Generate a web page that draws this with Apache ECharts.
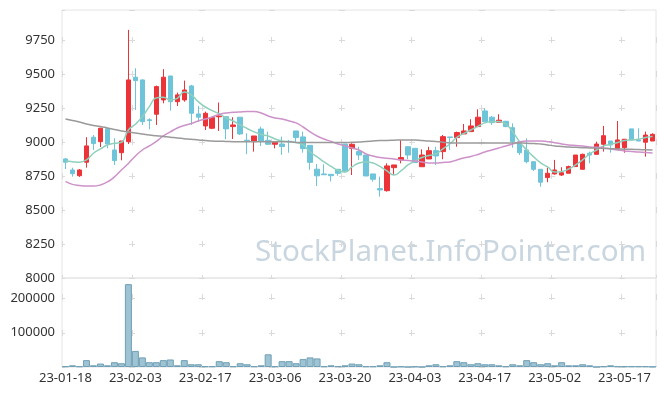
<!DOCTYPE html>
<html><head><meta charset="utf-8">
<script src="https://cdn.jsdelivr.net/npm/echarts@6/dist/echarts.min.js"></script>
<style>html,body{margin:0;padding:0;background:#fff}#c{width:665px;height:396px}</style>
</head><body><div id="c"></div>
<script>
const dates = ['23-01-18','23-01-19','23-01-20','23-01-25','23-01-26','23-01-27','23-01-30','23-01-31',
'23-02-01','23-02-02','23-02-03','23-02-06','23-02-07','23-02-08','23-02-09','23-02-10','23-02-13','23-02-14','23-02-15','23-02-16','23-02-17','23-02-20','23-02-21','23-02-22','23-02-23','23-02-24','23-02-27','23-02-28',
'23-03-02','23-03-03','23-03-06','23-03-07','23-03-08','23-03-09','23-03-10','23-03-13','23-03-14','23-03-15','23-03-16','23-03-17','23-03-20','23-03-21','23-03-22','23-03-23','23-03-24','23-03-27','23-03-28','23-03-29','23-03-30','23-03-31',
'23-04-03','23-04-04','23-04-05','23-04-06','23-04-07','23-04-10','23-04-11','23-04-12','23-04-13','23-04-14','23-04-17','23-04-18','23-04-19','23-04-20','23-04-21','23-04-24','23-04-25','23-04-26','23-04-27','23-04-28',
'23-05-02','23-05-03','23-05-04','23-05-08','23-05-09','23-05-10','23-05-11','23-05-12','23-05-15','23-05-16','23-05-17','23-05-18','23-05-19','23-05-22','23-05-23'];

// [open, close, low, high]
const ohlc = [
[8875,8851,8801,8882],[8794,8767,8745,8811],[8752,8794,8743,8801],[8851,8971,8811,9035],[9035,8988,8941,9051],
[9002,9101,8963,9105],[9098,8985,8953,9098],[8941,8863,8831,9027],[8921,9007,8865,9007],[9002,9456,8985,9824],
[9476,9451,9235,9542],[9456,9149,9125,9460],[9163,9157,9093,9174],[9204,9407,9125,9414],[9309,9476,9284,9535],
[9485,9296,9230,9485],[9296,9346,9265,9363],[9309,9382,9296,9451],[9412,9211,9125,9420],[9206,9182,9149,9265],
[9118,9211,9088,9223],[9101,9179,9095,9185],[9185,9191,9081,9290],[9186,9096,9020,9186],[9113,9125,9022,9182],
[9182,9059,9051,9182],[9013,9005,8910,9064],[9002,9044,8929,9044],[9095,9007,8970,9112],[9012,8983,8980,9076],
[8983,8998,8953,9000],[8985,8966,8905,9039],[9005,9002,8921,9015],[9081,9032,8998,9081],[9037,8951,8921,9076],
[8975,8850,8796,8975],[8800,8751,8676,8838],[8765,8759,8759,8836],[8762,8752,8710,8762],[8799,8770,8752,8799],
[8985,8789,8774,8985],[8953,8983,8757,8990],[8929,8904,8868,8965],[8904,8750,8750,8904],[8765,8726,8708,8765],
[8657,8647,8598,8745],[8642,8824,8635,8843],[8811,8831,8757,8831],[8868,8885,8843,9015],[8965,8904,8873,8965],
[8953,8848,8848,8953],[8818,8904,8818,8946],[8875,8936,8875,8965],[8936,8897,8831,8965],[8929,9039,8873,9051],
[9037,9032,8941,9037],[9032,9069,8965,9076],[9059,9081,9059,9132],[9076,9118,9076,9167],[9113,9182,9113,9240],
[9228,9149,9149,9248],[9182,9142,9125,9191],[9145,9160,9145,9204],[9152,9113,9108,9152],[9105,9002,8958,9137],
[9002,8921,8904,9002],[8941,8855,8843,9027],[8855,8799,8787,8855],[8799,8704,8671,8799],[8738,8770,8704,8811],
[8765,8794,8760,8868],[8757,8774,8750,8814],[8770,8819,8770,8826],[8819,8904,8819,8904],[8799,8909,8799,8914],
[8917,8904,8843,8929],[8909,8985,8909,9002],[8983,9046,8929,9118],[9007,8978,8921,9007],[8949,9015,8949,9154],
[8958,9020,8921,9020],[9096,9015,9015,9096],[9015,9007,9007,9101],[8998,9051,8892,9076],[9007,9056,9007,9064]
];

const ma5 = [8860,8855,8851,8868,8917,8949,8978,8990,8998,9088,9130,9186,9260,9324,9329,9309,9321,9368,9346,9296,
9257,9230,9206,9176,9154,9125,9099,9074,9055,9044,9022,9007,9002,8996,8978,8926,8890,8853,8820,8790,
8779,8816,8846,8853,8846,8820,8787,8757,8787,8831,8860,8886,8901,8912,8949,8985,9033,9063,9088,9114,
9140,9149,9151,9132,9074,9000,8941,8890,8846,8816,8779,8783,8801,8831,8868,8912,8941,8971,8982,8996,
9010,9015,9020,9033,9040];

const ma20 = [8710,8688,8680,8676,8676,8684,8706,8743,8794,8842,8897,8941,8971,9004,9044,9074,9103,9121,9136,9154,
9169,9184,9202,9213,9218,9221,9223,9223,9213,9191,9176,9169,9154,9140,9110,9074,9044,9022,9004,8985,
8971,8956,8941,8912,8897,8886,8880,8875,8868,8864,8860,8853,8846,8846,8849,8853,8868,8882,8893,8908,
8926,8941,8956,8971,8985,9000,9007,9007,9007,9002,8995,8985,8978,8974,8971,8963,8961,8956,8949,8941,
8934,8930,8926,8923,8919];

const ma60 = [9169,9158,9147,9132,9121,9114,9103,9092,9081,9074,9066,9059,9051,9046,9040,9035,9029,9024,9020,9015,
9011,9007,9005,9004,9002,9002,9002,9002,9002,9002,9002,9002,9002,8996,8996,8996,8996,8996,8996,8996,
8996,8998,9000,9004,9007,9010,9011,9013,9015,9015,9015,9011,9007,9004,8998,8993,8993,8993,8993,8993,
8993,8993,8993,8993,8993,8993,8990,8989,8985,8978,8971,8967,8963,8961,8958,8956,8954,8952,8950,8949,
8947,8946,8944,8943,8941];

const volume = [2000,5000,2000,20000,5000,10000,5000,14000,11000,242000,47000,28000,14000,14000,20000,22000,5000,20000,8000,8000,
2000,2000,17000,14000,2000,11000,8000,2000,5000,37000,2000,17000,17000,11000,23000,28000,25000,2000,5000,2000,
5000,10000,8000,2000,2000,5000,14000,0,1500,0,1500,0,5000,8000,2000,5000,17000,14000,8000,11000,
8000,8000,5000,2000,8000,5000,20000,14000,8000,11000,5000,14000,5000,5000,8000,5000,0,2000,5000,2000,
2000,2000,2000,2000,1000];

const priceTicks = [8000, 9970, 250];
const volTicks = [0, 260000, 100000];

const chart = echarts.init(document.getElementById('c'), null, {renderer: 'canvas'});
const labelStyle = {color: '#333', fontSize: 13, fontFamily: 'Noto Sans', formatter: v => String(v)};
const gridCol = '#e4e4e4';
const dashCol = '#dadada';
chart.setOption({
  animation: false,
  backgroundColor: '#fff',
  graphic: [{
    type: 'text', left: 255, top: 238, z: 0,
    style: {text: 'StockPlanet.InfoPointer.com', fill: '#c9d6df', font: '29.6px "Noto Sans"'}
  }],
  grid: [
    {left: 62, right: 9, top: 10, height: 268, show: true, borderColor: gridCol, borderWidth: 1, backgroundColor: 'transparent'},
    {left: 62, right: 9, top: 278, height: 89, show: true, borderColor: gridCol, borderWidth: 1, backgroundColor: 'transparent'}
  ],
  xAxis: [
    {type: 'category', data: dates, gridIndex: 0, boundaryGap: true,
     axisLine: {show: false}, axisTick: {show: false}, axisLabel: {show: false},
     splitLine: {show: true, interval: 9, lineStyle: {color: dashCol, type: [6, 28], dashOffset: 7}}},
    {type: 'category', data: dates, gridIndex: 1, boundaryGap: true,
     axisLine: {show: false}, axisTick: {show: false},
     axisLabel: {interval: 9, margin: 5, color: '#333', fontSize: 13, fontFamily: 'Noto Sans'},
     splitLine: {show: true, interval: 9, lineStyle: {color: dashCol, type: [6, 30], dashOffset: 20}}}
  ],
  yAxis: [
    {type: 'value', gridIndex: 0, min: priceTicks[0], max: priceTicks[1], interval: priceTicks[2], scale: true,
     axisLine: {show: false}, axisTick: {show: false},
     axisLabel: Object.assign({showMaxLabel: false, margin: 7}, labelStyle),
     splitLine: {show: true, lineStyle: {color: dashCol, type: [6, 64], dashOffset: 3}}},
    {type: 'value', gridIndex: 1, min: volTicks[0], max: volTicks[1], interval: volTicks[2],
     axisLine: {show: false}, axisTick: {show: false},
     axisLabel: Object.assign({showMaxLabel: false, showMinLabel: false, margin: 7}, labelStyle),
     splitLine: {show: true, lineStyle: {color: dashCol, type: [6, 64], dashOffset: 3}}}
  ],
  series: [
    {type: 'candlestick', xAxisIndex: 0, yAxisIndex: 0, data: ohlc, barWidth: 5, z: 3,
     itemStyle: {color: '#ec3338', color0: '#6ec4d8', borderColor: '#ec3338', borderColor0: '#6ec4d8', borderWidth: 1}},
    {type: 'line', name: 'MA5', data: ma5, smooth: true, symbol: 'none', z: 4,
     lineStyle: {color: '#8fd0bc', width: 1.5}},
    {type: 'line', name: 'MA20', data: ma20, smooth: true, symbol: 'none', z: 4,
     lineStyle: {color: '#cd92c9', width: 1.5}},
    {type: 'line', name: 'MA60', data: ma60, smooth: true, symbol: 'none', z: 4,
     lineStyle: {color: '#9a9a9a', width: 1.5}},
    {type: 'bar', xAxisIndex: 1, yAxisIndex: 1, data: volume, barCategoryGap: '0%',
     itemStyle: {color: '#9ec3d3', borderColor: '#6f9fb5', borderWidth: 1}}
  ]
});
</script></body></html>
